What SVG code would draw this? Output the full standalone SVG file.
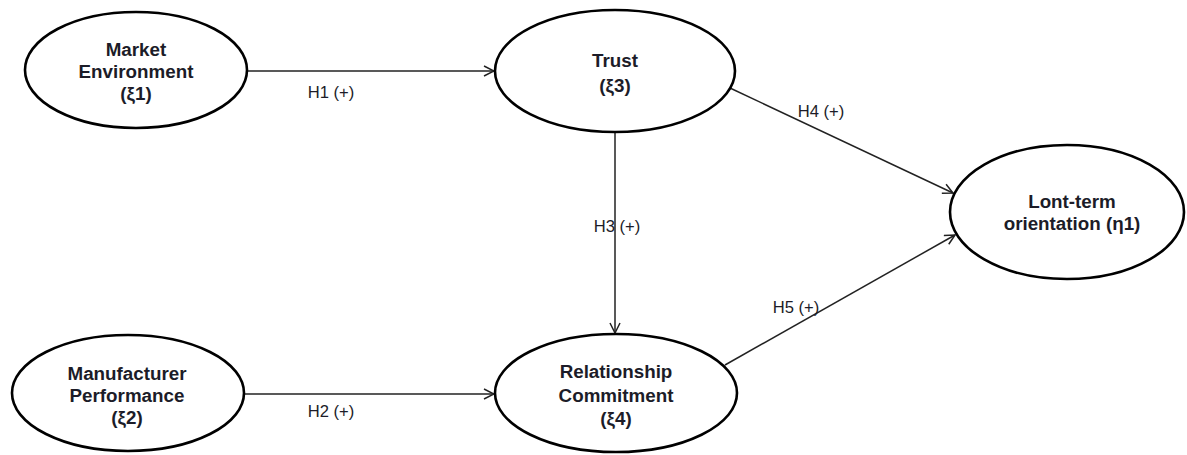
<svg xmlns="http://www.w3.org/2000/svg" width="1187" height="455" viewBox="0 0 1187 455">
<style>
.n{fill:#fff;stroke:#000;stroke-width:2.6}
.t{font-family:"Liberation Sans",Arial,sans-serif;font-size:18.8px;font-weight:bold;fill:#1c1c28;text-anchor:middle}
.l{font-family:"Liberation Sans",Arial,sans-serif;font-size:16.6px;fill:#1c1c28;text-anchor:middle}
.c{stroke:#222;stroke-width:1.5;fill:none;marker-end:url(#a)}
</style>
<defs>
<marker id="a" viewBox="0 0 12 12" refX="11" refY="6" markerWidth="12" markerHeight="12" markerUnits="userSpaceOnUse" orient="auto">
<path d="M1,1 L11,6 L1,11" fill="none" stroke="#222" stroke-width="1.5"/>
</marker>
</defs>
<rect width="1187" height="455" fill="#fff"/>
<g id="connectors">
<line class="c" x1="247" y1="71" x2="494" y2="71"/>
<line class="c" x1="243" y1="394" x2="494" y2="394"/>
<line class="c" x1="615" y1="132" x2="615" y2="333"/>
<line class="c" x1="730" y1="88" x2="953" y2="193"/>
<line class="c" x1="725" y1="365" x2="955" y2="235"/>
<text class="l" x="331" y="98">H1 (+)</text>
<text class="l" x="331" y="417">H2 (+)</text>
<text class="l" x="617" y="232">H3 (+)</text>
<text class="l" x="821" y="117">H4 (+)</text>
<text class="l" x="796" y="313">H5 (+)</text>
</g>
<g id="market">
<ellipse class="n" cx="136" cy="70" rx="111" ry="58"/>
<text class="t" x="136" y="56">Market</text>
<text class="t" x="136" y="78">Environment</text>
<text class="t" x="136" y="100">(ξ1)</text>
</g>
<g id="trust">
<ellipse class="n" cx="615" cy="71" rx="120" ry="61"/>
<text class="t" x="615" y="67">Trust</text>
<text class="t" x="615" y="92">(ξ3)</text>
</g>
<g id="manufacturer">
<ellipse class="n" cx="128" cy="393" rx="116" ry="58"/>
<text class="t" x="127" y="380">Manufacturer</text>
<text class="t" x="127" y="402">Performance</text>
<text class="t" x="127" y="424">(ξ2)</text>
</g>
<g id="commitment">
<ellipse class="n" cx="616" cy="393" rx="121" ry="59"/>
<text class="t" x="616" y="378">Relationship</text>
<text class="t" x="616" y="402">Commitment</text>
<text class="t" x="616" y="425">(ξ4)</text>
</g>
<g id="longterm">
<ellipse class="n" cx="1067" cy="212" rx="117" ry="67"/>
<text class="t" x="1072" y="208">Lont-term</text>
<text class="t" x="1072" y="230">orientation (η1)</text>
</g>
</svg>
